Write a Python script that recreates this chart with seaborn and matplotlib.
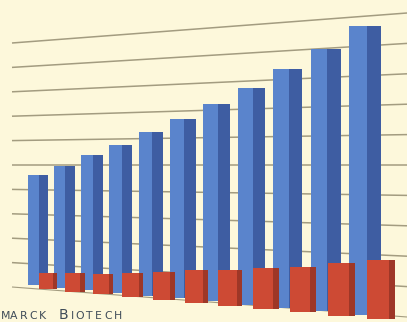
import numpy as np
import pandas as pd
import matplotlib
matplotlib.use("Agg")
import matplotlib.pyplot as plt
import seaborn as sns
from matplotlib.patches import Rectangle

# ---- data ----
periods = ["P1", "P2", "P3", "P4", "P5", "P6", "P7", "P8", "P9", "P10", "P11"]
blue_values = [110, 122, 135, 148, 164, 179, 197, 217, 239, 262, 289]
red_values = [16, 19, 20, 24, 28, 33, 36, 41, 45, 53, 59]

sns.set_theme(style="white")

W, H = 407, 322
bg = "#FDF8DB"
blue_front, blue_side = "#5A84CC", "#3E5DA2"
red_front, red_side = "#CD4A34", "#9E3727"
grid_col = "#A39C80"

fig = plt.figure(figsize=(W / 100, H / 100), dpi=100)
fig.patch.set_facecolor(bg)
ax = fig.add_axes([0, 0, 1, 1])
ax.set_facecolor(bg)

# perspective-like x scale: category index -> screen pixel
A, B, C = 38.0, 25.3, 0.74


def fwd(i):
    i = np.asarray(i, float)
    return A + B * i + C * i * i


def inv(p):
    p = np.asarray(p, float)
    return (-B + np.sqrt(np.maximum(B * B + 4 * C * (p - A), 0))) / (2 * C)


def floor_y(px):
    # sloping floor of the 3D scene, in data units
    return H - (289 + (np.asarray(px) - 45) * 0.09)


pos = np.arange(len(periods), dtype=float)
red_shift = 0.4
df_blue = pd.DataFrame({"period": periods, "pos": pos, "value": blue_values})
df_red = pd.DataFrame({"period": periods, "pos": pos + red_shift, "value": red_values})

# back-wall grid lines (perspective)
for k in range(11):
    xl, yl = 12, 287 - 24.4 * k
    xr, yr = W, 317 - 30.4 * k
    ax.plot([inv(xl), inv(xr)], [H - yl, H - yr], color=grid_col,
            lw=1.1 if k else 0.8, zorder=1, solid_capstyle="butt")


def add_fronts(patches, frac, color):
    for p in patches:
        ax.add_patch(Rectangle((p.get_x(), p.get_y()), p.get_width() * frac,
                               p.get_height(), facecolor=color, edgecolor="none",
                               zorder=p.get_zorder() + 0.1))


n0 = len(ax.patches)
sns.barplot(data=df_blue, x="pos", y="value", native_scale=True, width=0.78,
            color=blue_side, saturation=1, errorbar=None, ax=ax,
            bottom=floor_y(fwd(pos)) + 3, linewidth=0, zorder=3)
blue_patches = list(ax.patches[n0:])
add_fronts(blue_patches, 0.55, blue_front)

n1 = len(ax.patches)
sns.barplot(data=df_red, x="pos", y="value", native_scale=True, width=0.7,
            color=red_side, saturation=1, errorbar=None, ax=ax,
            bottom=floor_y(fwd(pos + red_shift)), linewidth=0, zorder=4)
red_patches = list(ax.patches[n1:])
add_fronts(red_patches, 0.78, red_front)

ax.set_xscale("function", functions=(fwd, inv))
ax.set_xlim(float(inv(0)), float(inv(W)))
ax.set_ylim(0, H)
ax.set_axis_off()

# footer text (small caps)
txt_col = "#3F4C58"
small, big = 7.8, 10
letters = [("M", 0.5, small), ("A", 10, small), ("R", 19.5, small), ("C", 29, small),
           ("K", 38.5, small), ("B", 59, big), ("I", 70.5, small), ("O", 75.5, small),
           ("T", 85.5, small), ("E", 95, small), ("C", 104, small), ("H", 114, small)]
for ch, px, fs in letters:
    fig.text(px / W, 3 / H, ch, fontsize=fs, color=txt_col, ha="left",
             va="baseline", family="DejaVu Sans", fontweight="medium")

fig.savefig("out.png", dpi=100, facecolor=bg)
